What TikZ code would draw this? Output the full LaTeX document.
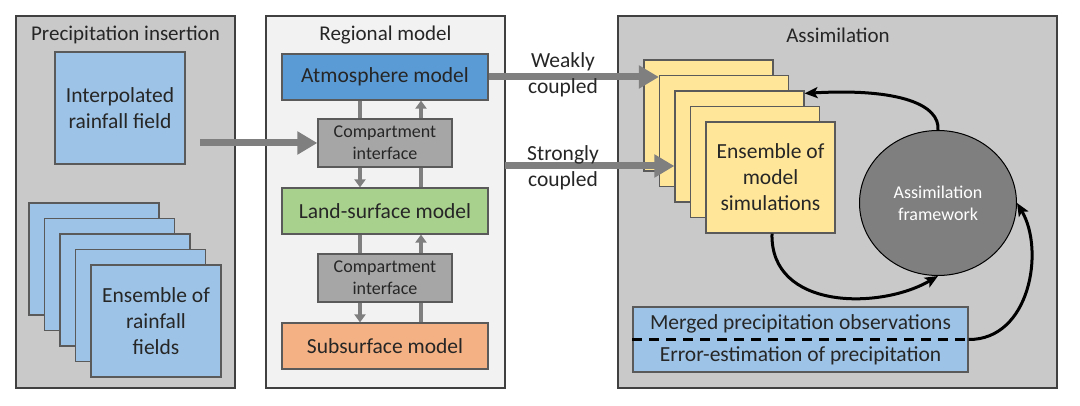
\documentclass[tikz,border=0pt]{standalone}
\usepackage{fontspec}
\setmainfont{Carlito}
\usetikzlibrary{arrows.meta,shapes.geometric}
\definecolor{panelgray}{HTML}{C9C9C9}
\definecolor{panellight}{HTML}{F2F2F2}
\definecolor{bordergray}{HTML}{404040}
\definecolor{boxborder}{HTML}{5A5A5A}
\definecolor{lightblue}{HTML}{9DC3E6}
\definecolor{atmblue}{HTML}{5B9BD5}
\definecolor{cigray}{HTML}{A6A6A6}
\definecolor{landgreen}{HTML}{A9D18E}
\definecolor{subor}{HTML}{F4B183}
\definecolor{simyellow}{HTML}{FFE699}
\definecolor{ellgray}{HTML}{7F7F7F}
\definecolor{arrowgray}{HTML}{7F7F7F}
\definecolor{txt}{HTML}{262626}
\tikzset{
  panel/.style={draw=bordergray, line width=1.5pt, inner sep=0pt},
  boxnode/.style={draw=boxborder, line width=1.2pt, align=center, inner sep=0pt, text=txt,
    font=\fontsize{21.5}{26}\selectfont},
  cibox/.style={boxnode, fill=cigray, minimum width=134pt, minimum height=48pt,
    font=\fontsize{18}{22}\selectfont},
  modelbox/.style={boxnode, minimum width=206pt, minimum height=46pt},
  titletext/.style={text=txt, font=\fontsize{21}{26}\selectfont, inner sep=0pt},
  lbl/.style={text=txt, align=center, font=\fontsize{21.5}{26}\selectfont, inner sep=0pt},
  bigarrow/.style={draw=arrowgray, line width=7pt, -{Triangle[length=20pt,width=22pt]}},
  gline/.style={draw=arrowgray, line width=3.5pt},
  garrow/.style={draw=arrowgray, line width=3.5pt, -{Triangle[length=8pt,width=11pt]}},
  curvearrow/.style={draw=black, line width=3pt, -{Stealth[length=13pt,width=11pt,inset=3pt]}}
}
\begin{document}
\begin{tikzpicture}[x=1pt,y=-1pt]
\useasboundingbox (0,0) rectangle (1080,406);
\fill[white] (0,0) rectangle (1080,406);
% panels
\node[panel, fill=panelgray, minimum width=219pt, minimum height=372pt] (p1) at (125.5,202) {};
\node[panel, fill=panellight, minimum width=239pt, minimum height=372pt] (p2) at (385.5,202) {};
\node[panel, fill=panelgray, minimum width=439pt, minimum height=372pt] (p3) at (837.5,202) {};
\node[titletext] (t1) at (125.5,35) {Precipitation insertion};
\node[titletext] (t2) at (385.5,35) {Regional model};
\node[titletext] (t3) at (838,35) {Assimilation};
% panel 1
\node[boxnode, fill=lightblue, minimum width=130pt, minimum height=112pt] (interp) at (120,108) {Interpolated\\rainfall field};
\foreach \k in {0,...,3}{
  \node[boxnode, fill=lightblue, minimum width=130pt, minimum height=112pt] (r\k) at (94+15.5*\k,259+15.5*\k) {};
}
\node[boxnode, fill=lightblue, minimum width=130pt, minimum height=112pt] (r4) at (156,321) {Ensemble of\\rainfall\\fields};
% panel 2
\node[modelbox, fill=atmblue] (atm) at (385,77) {Atmosphere model};
\node[cibox] (ci1) at (385,143) {Compartment\\interface};
\node[modelbox, fill=landgreen] (land) at (385,211) {Land-surface model};
\node[cibox] (ci2) at (385,278) {Compartment\\interface};
\node[modelbox, fill=subor] (sub) at (385,346) {Subsurface model};
\draw[gline] ([xshift=-25pt]atm.south) -- ([xshift=-25pt]ci1.north);
\draw[garrow] ([xshift=-25pt]ci1.south) -- ([xshift=-25pt]land.north);
\draw[gline] ([xshift=36pt]land.north) -- ([xshift=36pt]ci1.south);
\draw[garrow] ([xshift=36pt]ci1.north) -- ([xshift=36pt]atm.south);
\draw[gline] ([xshift=-25pt]land.south) -- ([xshift=-25pt]ci2.north);
\draw[garrow] ([xshift=-25pt]ci2.south) -- ([xshift=-25pt]sub.north);
\draw[gline] ([xshift=36pt]sub.north) -- ([xshift=36pt]ci2.south);
\draw[garrow] ([xshift=36pt]ci2.north) -- ([xshift=36pt]land.south);
% panel 3
\foreach \k in {1,...,4}{
  \pgfmathtruncatemacro{\n}{\k}
  \node[boxnode, fill=simyellow, minimum width=129pt, minimum height=111pt] (y\n) at (708.5+15.5*\k-15.5,115.5+15.5*\k-15.5) {};
}
\node[boxnode, fill=simyellow, minimum width=129pt, minimum height=111pt] (y5) at (770.5,177.5) {Ensemble of\\model\\simulations};
\node[ellipse, draw=black, line width=1pt, fill=ellgray, minimum width=157pt, minimum height=145pt,
  inner sep=0pt, align=center, text=white, font=\fontsize{18}{22}\selectfont] (ell) at (938,203) {Assimilation\\framework};
\node[boxnode, fill=lightblue, minimum width=335pt, minimum height=65pt] (obs) at (800.5,339.5) {};
\node[lbl] (obs1) at (800.5,323.5) {Merged precipitation observations};
\node[lbl] (obs2) at (800.5,356) {Error-estimation of precipitation};
\draw[black, line width=2.5pt, dash pattern=on 10pt off 7pt] (obs.west) -- (obs.east);
% arrows between panels
\coordinate (pa) at (200,143);
\draw[bigarrow] (pa) -- (ci1.west);
\draw[bigarrow] (atm.east) -- (y2.west |- atm.east);
\coordinate (sc) at (505,166);
\draw[bigarrow] (sc) -- (y3.west |- sc);
\node[lbl] (wl) at (563,75) {Weakly\\coupled};
\node[lbl] (sl) at (563,168) {Strongly\\coupled};
% assimilation loop
\draw[curvearrow] (ell.north) .. controls (940,105) and (900,88) .. ([yshift=-3pt]y3.north east);
\draw[curvearrow] ([xshift=1.5pt]y5.south) .. controls (770,310) and (880,310) .. (ell.south);
\draw[curvearrow] (obs.east) .. controls (1030,340) and (1045,250) .. (ell.east);
\end{tikzpicture}
\end{document}
